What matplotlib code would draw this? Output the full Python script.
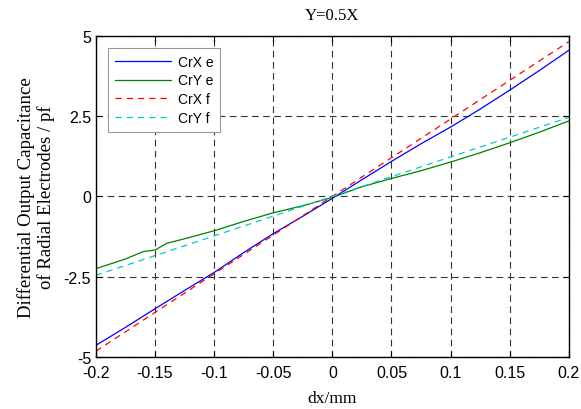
import numpy as np
import matplotlib.pyplot as plt

# measured curves (e) and linear fits (f)
x_e = [-0.2, -0.175, -0.15, -0.125, -0.1, -0.075, -0.05, -0.025, 0.0,
       0.025, 0.05, 0.075, 0.1, 0.125, 0.15, 0.175, 0.2]
crx_e = [-4.64, -4.08, -3.50, -2.93, -2.37, -1.75, -1.16, -0.62, -0.06,
         0.52, 1.09, 1.64, 2.16, 2.72, 3.31, 3.92, 4.55]

x_ye = [-0.2, -0.175, -0.16, -0.15, -0.14, -0.125, -0.1, -0.075, -0.05, -0.025,
        0.0, 0.025, 0.05, 0.075, 0.1, 0.125, 0.15, 0.175, 0.2]
cry_e = [-2.25, -1.95, -1.72, -1.67, -1.46, -1.32, -1.07, -0.78, -0.51, -0.29,
         -0.03, 0.30, 0.56, 0.80, 1.07, 1.36, 1.67, 2.00, 2.35]

x_f = [-0.2, 0.2]
crx_f = [-4.82, 4.82]
cry_f = [-2.46, 2.46]

xticks = [-0.2, -0.15, -0.1, -0.05, 0, 0.05, 0.1, 0.15, 0.2]
xticklabels = ['-0.2', '-0.15', '-0.1', '-0.05', '0', '0.05', '0.1', '0.15', '0.2']
yticks = [-5, -2.5, 0, 2.5, 5]
yticklabels = ['-5', '-2.5', '0', '2.5', '5']

plt.rcParams['font.family'] = 'Liberation Sans'

fig = plt.figure(figsize=(5.81, 4.10), dpi=100)
ax = fig.add_axes([0.165, 0.127, 0.814, 0.783])

ax.plot(x_e, crx_e, color='blue', lw=0.9, label='CrX e')
ax.plot(x_ye, cry_e, color='green', lw=0.9, label='CrY e')
ax.plot(x_f, crx_f, color='red', lw=0.9, ls=(0, (5, 4)), label='CrX f')
ax.plot(x_f, cry_f, color='#00cccc', lw=0.9, ls=(0, (5, 4)), label='CrY f')

ax.set_xlim(-0.2, 0.2)
ax.set_ylim(-5, 5)
ax.set_xticks(xticks)
ax.set_xticklabels(xticklabels)
ax.set_yticks(yticks)
ax.set_yticklabels(yticklabels)
ax.tick_params(direction='in', top=True, right=True, labelsize=11.5, length=4, width=0.8)
ax.tick_params(axis='x', pad=6)
ax.grid(True, color='#333333', ls=(0, (6, 4)), lw=0.8)
for s in ax.spines.values():
    s.set_linewidth(1.0)

ax.set_title('Y=0.5X', family='Liberation Serif', fontsize=12, pad=12)
ax.set_xlabel('dx/mm', family='Liberation Serif', fontsize=12.5, labelpad=7)
ax.set_ylabel('Differential Output Capacitance\nof Radial Electrodes / pf',
              family='Liberation Serif', fontsize=13.5, labelpad=6)

leg = ax.legend(loc='upper left', bbox_to_anchor=(0.012, 0.985), fontsize=10,
                fancybox=False, edgecolor='#999999', framealpha=1,
                handlelength=4.0, handletextpad=0.5, borderpad=0.5,
                labelspacing=0.35)
leg.get_frame().set_linewidth(0.8)

fig.savefig('out.png', dpi=100)
